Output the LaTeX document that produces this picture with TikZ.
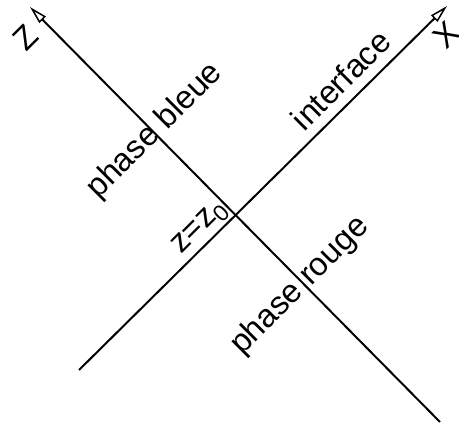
\documentclass[tikz,border=0pt]{standalone}
\usepackage{fontspec}
\setmainfont{Liberation Sans}
\usetikzlibrary{arrows.meta}
\begin{document}
\begin{tikzpicture}[x=1pt,y=-1pt,
  axis/.style={line width=2pt,-{Triangle[open,length=18pt,width=9pt,line width=1.5pt]}},
  lbl/.style={rotate=45,inner sep=0pt,font=\fontsize{32.5}{32.5}\selectfont}]
\useasboundingbox (0,0) rectangle (459,427);
\coordinate (z0) at (440,422);
\coordinate (zt) at (30,7);
\coordinate (x0) at (79,370);
\coordinate (xt) at (447,6);
\draw[axis] (z0) -- (zt);
\draw[axis] (x0) -- (xt);
\node[lbl] (Z) at (26,37.5) {Z};
\node[lbl] (X) at (446,35) {X};
\node[lbl,anchor=base] (pb) at (161,137) {phase bleue};
\node[lbl,anchor=base] (itf) at (349,88) {interface};
\node[lbl,anchor=base] (zz) at (204,232) {z=z\raisebox{-0.22em}{\fontsize{23}{23}\selectfont 0}};
\node[lbl,anchor=base] (pr) at (306,292) {phase rouge};
\end{tikzpicture}
\end{document}
